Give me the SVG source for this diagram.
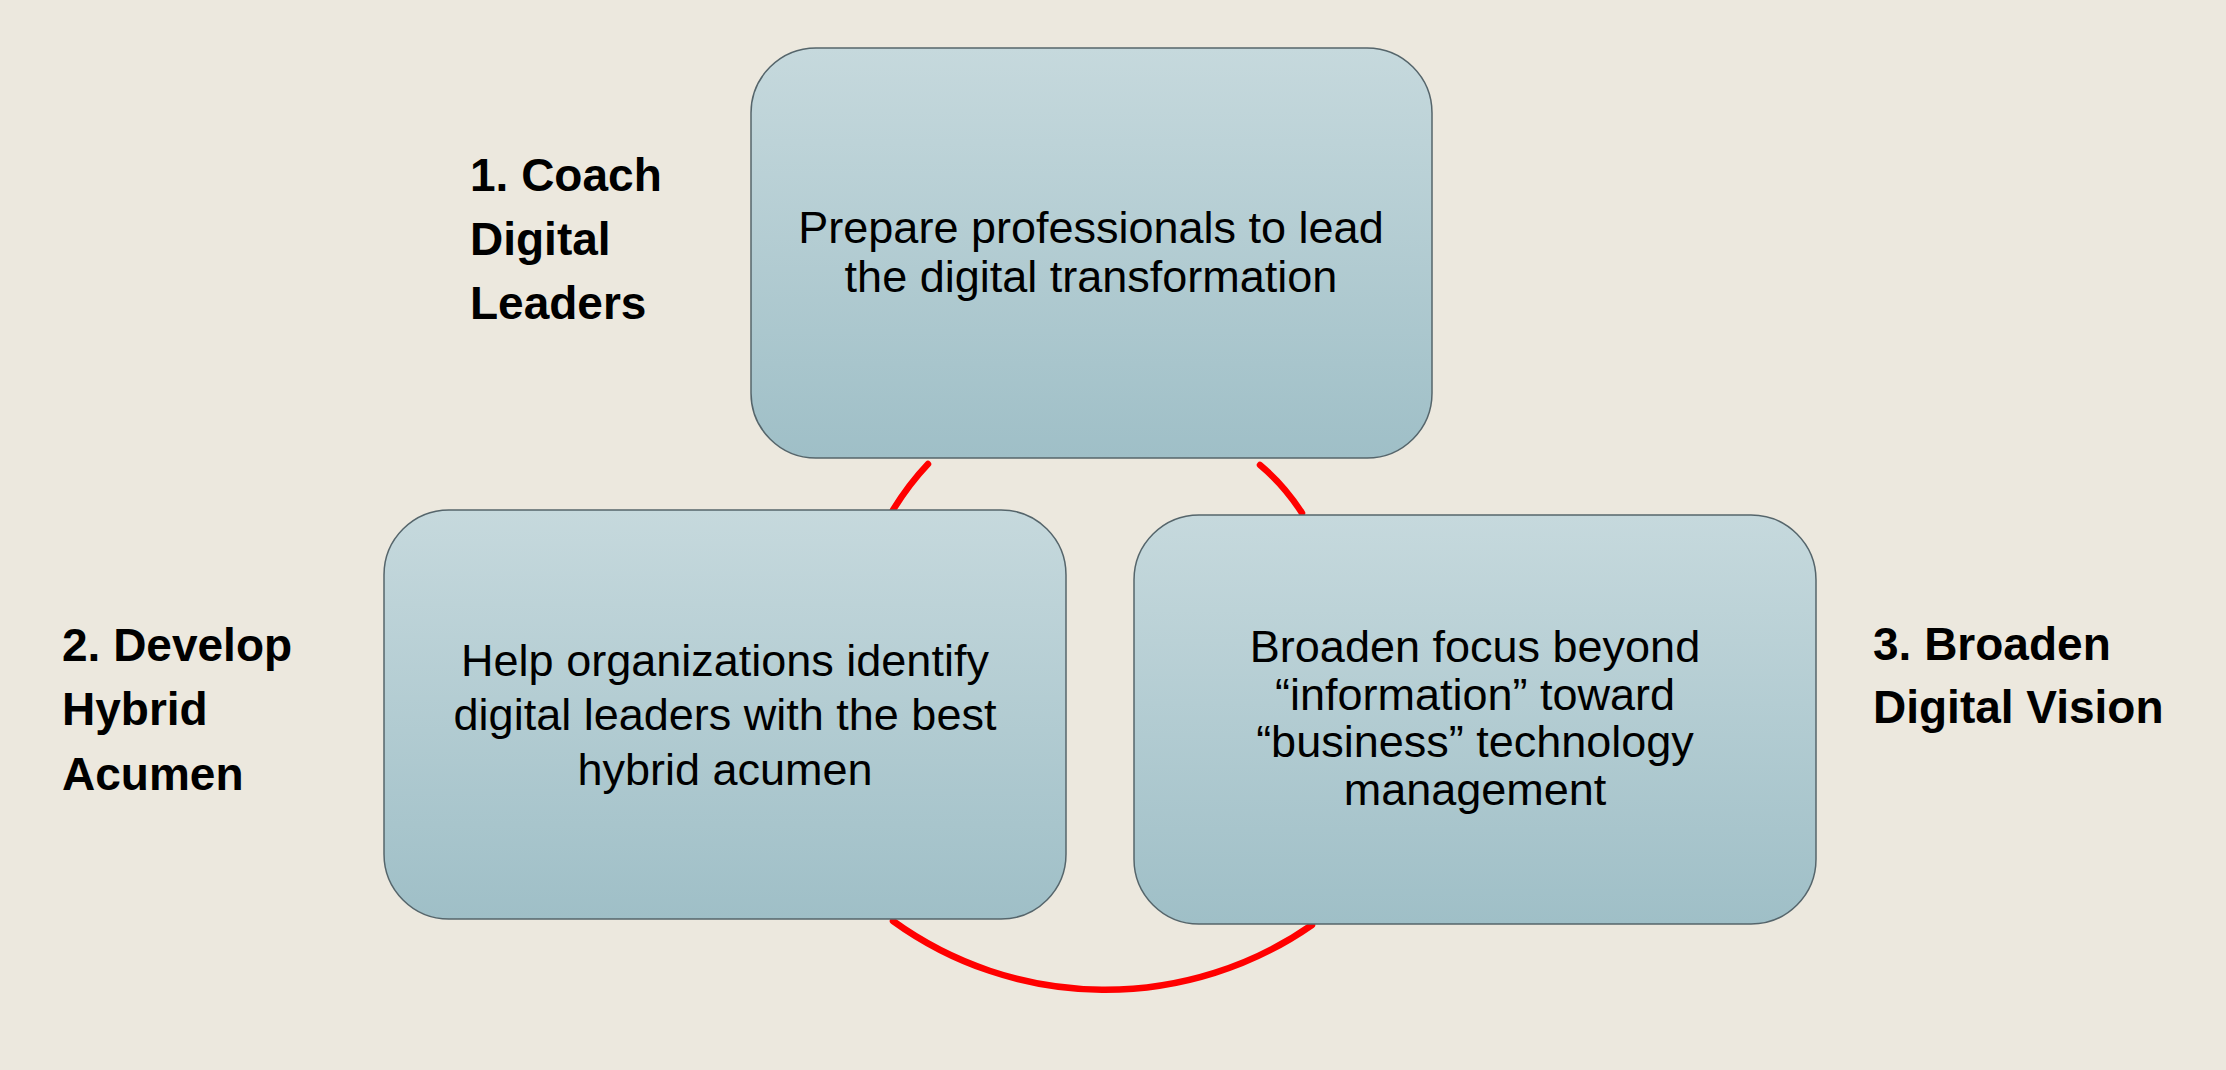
<svg xmlns="http://www.w3.org/2000/svg" width="2226" height="1070" viewBox="0 0 2226 1070">
  <defs>
    <linearGradient id="boxGrad" x1="0" y1="0" x2="0" y2="1">
      <stop offset="0" stop-color="#C6D9DD"/>
      <stop offset="1" stop-color="#9FBFC7"/>
    </linearGradient>
    <style>
      .box { fill: url(#boxGrad); stroke: #55656B; stroke-width: 1.5; }
      .btxt { font-family: "Liberation Sans", Arial, sans-serif; font-size: 45px; fill: #000; text-anchor: middle; }
      .lbl { font-family: "Liberation Sans", Arial, sans-serif; font-size: 46px; font-weight: bold; fill: #000; }
      .conn { fill: none; stroke: #FF0000; stroke-width: 6.5; stroke-linecap: round; }
    </style>
  </defs>
  <rect x="0" y="0" width="2226" height="1070" fill="#ECE8DE"/>

  <g id="connectors">
    <path class="conn" d="M 928 464 Q 909 484 893 510"/>
    <path class="conn" d="M 1260 465 Q 1284 485 1302 513"/>
    <path class="conn" d="M 893 921 A 362 362 0 0 0 1312 925"/>
  </g>

  <g id="node-top">
    <rect class="box" x="751" y="48" width="681" height="410" rx="65" ry="65"/>
    <text class="btxt" x="1091" y="243">Prepare professionals to lead</text>
    <text class="btxt" x="1091" y="292">the digital transformation</text>
  </g>

  <g id="node-left">
    <rect class="box" x="384" y="510" width="682" height="409" rx="65" ry="65"/>
    <text class="btxt" x="725" y="676">Help organizations identify</text>
    <text class="btxt" x="725" y="730">digital leaders with the best</text>
    <text class="btxt" x="725" y="785">hybrid acumen</text>
  </g>

  <g id="node-right">
    <rect class="box" x="1134" y="515" width="682" height="409" rx="65" ry="65"/>
    <text class="btxt" x="1475" y="662">Broaden focus beyond</text>
    <text class="btxt" x="1475" y="710">“information” toward</text>
    <text class="btxt" x="1475" y="757">“business” technology</text>
    <text class="btxt" x="1475" y="805">management</text>
  </g>

  <g id="label-1">
    <text class="lbl" x="470" y="191">1. Coach</text>
    <text class="lbl" x="470" y="255">Digital</text>
    <text class="lbl" x="470" y="319">Leaders</text>
  </g>

  <g id="label-2">
    <text class="lbl" x="62" y="661">2. Develop</text>
    <text class="lbl" x="62" y="725">Hybrid</text>
    <text class="lbl" x="62" y="790">Acumen</text>
  </g>

  <g id="label-3">
    <text class="lbl" x="1873" y="660">3. Broaden</text>
    <text class="lbl" x="1873" y="723">Digital Vision</text>
  </g>
</svg>
